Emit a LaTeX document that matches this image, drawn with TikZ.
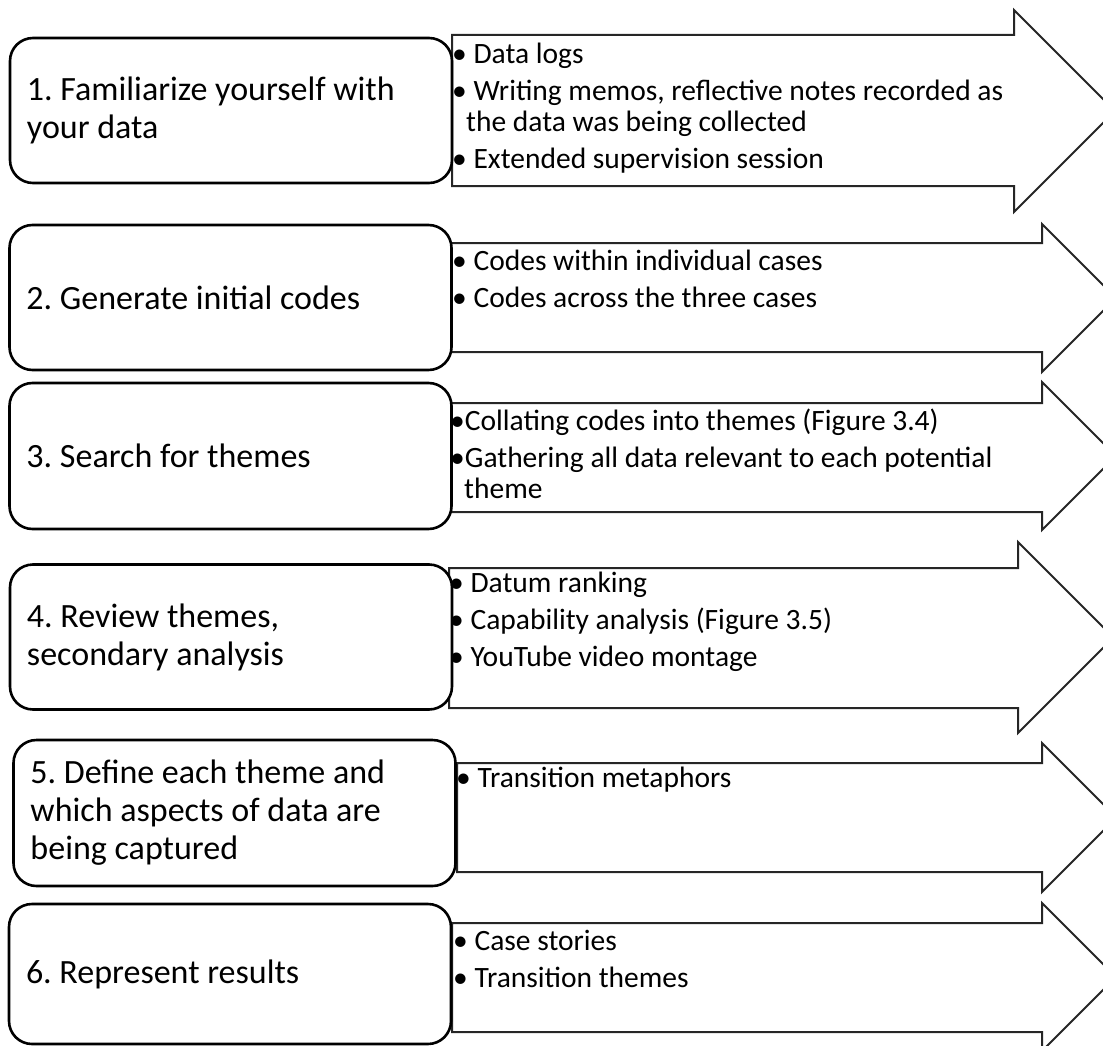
\documentclass[tikz,border=0pt]{standalone}
\usepackage{fontspec}
\setmainfont{Carlito}
\usepackage{tikz}
\usetikzlibrary{positioning}
\frenchspacing

\tikzset{
  stepbox/.style={draw, fill=white, rounded corners=23pt, line width=2.6pt,
    minimum width=442pt, minimum height=145pt, inner xsep=17pt,
    text width=408pt, align=flush left, font=\fontsize{34}{38}\selectfont},
  notes/.style={anchor=west, inner sep=0pt, align=left,
    font=\fontsize{29.5}{31}\selectfont},
  bigarrow/.style={draw=black!85, fill=white, line width=2pt, line join=miter}
}

\begin{document}
\begin{tikzpicture}[x=1pt, y=-1pt]
  \useasboundingbox (0,0) rectangle (1103,1046);
  \clip (0,0) rectangle (1103,1046);

  % arrows behind the steps
  \foreach \xa/\ya/\yb/\yc/\yd/\xb in {452/35/186/10/212/1014, 451/243/352/224/372/1042,
      451/403/512/382/530/1042, 449/568/708/542/733/1018,
      457/763/872/743/892/1042, 452/923/1032/903/1051/1042}
    \draw[bigarrow] (\xa,\ya) -- (\xb,\ya) -- (\xb,\yc)
      -- ({\xb+(\yd-\yc)/2},{(\yc+\yd)/2}) -- (\xb,\yd) -- (\xb,\yb) -- (\xa,\yb) -- cycle;

  % steps
  \node[stepbox] (s1) at (231,110.5) {1. Familiarize yourself with\\your data};
  \node[stepbox] (s2) at (230.5,297.5) {2. Generate initial codes};
  \node[stepbox, minimum height=146pt] (s3) at (230.5,456) {3. Search for themes};
  \node[stepbox] (s4) at (231,637) {4. Review themes,\\secondary analysis};
  \node[stepbox, minimum height=146pt] (s5) at (234.5,813) {5. Define each theme and\\which aspects of data are\\being captured};
  \node[stepbox, minimum height=140pt] (s6) at (230,974) {6. Represent results};

  % notes in the arrows
  \node[notes] (n1) at (452,108) {• Data logs\\[6pt]
    • Writing memos, reflective notes recorded as\\
    \hspace*{14pt}the data was being collected\\[6pt]
    • Extended supervision session};
  \node[notes] (n2) at (452,279) {• Codes within individual cases\\[6pt]
    • Codes across the three cases};
  \node[notes] (n3) at (450,454) {•Collating codes into themes (Figure 3.4)\\[6pt]
    •Gathering all data relevant to each potential\\
    \hspace*{14pt}theme};
  \node[notes] (n4) at (449,621.5) {• Datum ranking\\[6pt]
    • Capability analysis (Figure 3.5)\\[6pt]
    • YouTube video montage};
  \node[notes] (n5) at (456,780) {• Transition metaphors};
  \node[notes] (n6) at (453,958.5) {• Case stories\\[6pt]
    • Transition themes};
\end{tikzpicture}
\end{document}
